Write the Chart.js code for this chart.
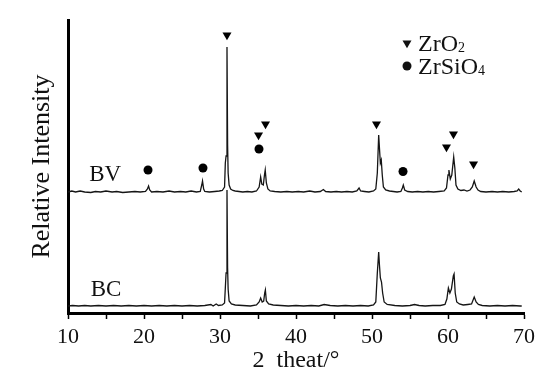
<!DOCTYPE html>
<html>
<head>
<meta charset="utf-8">
<script src="https://cdn.jsdelivr.net/npm/chart.js@4.4.1/dist/chart.umd.min.js"></script>
<style>
  body { margin: 0; background: #fff; }
  #xrd { display: block; }
</style>
</head>
<body>
<canvas id="xrd" width="554" height="386"></canvas>
<script>
// XRD scans: [2theta, intensity (arb. units)]
const bvScan = [
  [10.0,121],[10.5,122],[11.0,121],[11.6,122],[12.2,121],[13.0,120.5],[13.6,121.5],[14.3,121],
  [15.0,122],[15.8,121],[16.4,121.5],[17.2,120.5],[18.0,121],[18.8,121.5],[19.5,121],[20.2,121.5],
  [20.45,124],[20.6,127],[20.75,123],[21.0,121],[21.7,121.5],[22.5,121],[23.3,122],[24.0,121],
  [24.8,121.5],[25.5,121],[26.2,122],[26.9,121],[27.4,121.5],[27.6,128],[27.7,132],[27.85,124],
  [28.0,121.5],[28.6,121],[29.3,121.5],[29.9,122],[30.3,122.5],[30.6,126],[30.7,150],[30.8,157],
  [30.92,266],[31.0,168],[31.07,140],[31.2,128],[31.4,124],[31.7,122.5],[32.0,122],[32.5,121.5],
  [33.0,121],[33.6,121.5],[34.2,121],[34.8,122],[35.15,126],[35.35,136],[35.5,129],[35.7,128],
  [35.85,138],[35.95,143],[36.1,130],[36.3,124],[36.6,122],[37.2,121.5],[38.0,121],[38.8,121.5],
  [39.5,121],[40.3,121.5],[41.0,121],[41.8,122],[42.5,121],[43.2,121.5],[43.6,123.5],[43.9,121.5],
  [44.6,121],[45.3,121.5],[46.0,121],[46.7,121.5],[47.4,121],[48.0,122],[48.3,125],[48.5,122],
  [49.0,121.5],[49.6,121],[50.2,122],[50.5,124],[50.7,140],[50.88,178],[50.98,165],[51.1,150],
  [51.22,153],[51.35,138],[51.5,126],[51.8,123],[52.3,122],[52.8,121.5],[53.3,121],[53.8,121.5],
  [54.0,125],[54.12,128],[54.3,123],[54.7,121.5],[55.3,121],[56.0,121.5],[56.7,121],[57.4,121.5],
  [58.1,121],[58.8,121.5],[59.5,122],[59.8,125],[60.0,138],[60.12,143],[60.3,134],[60.5,138],
  [60.75,156],[60.9,145],[61.05,128],[61.3,124],[61.7,122.5],[62.1,123],[62.5,122],[62.9,123],
  [63.2,126],[63.45,132],[63.7,126],[63.95,123],[64.3,121.5],[65.0,121],[65.8,121.5],[66.5,121],
  [67.2,121.5],[68.0,121],[68.7,121.5],[69.1,122],[69.3,124],[69.5,122],[69.7,121]
];

const bcScan = [
  [10.0,7],[10.6,7.5],[11.4,7],[12.2,7.5],[13.0,7],[14.0,7.5],[15.0,7],[16.0,7.5],
  [17.0,7],[18.0,7.5],[19.0,7],[20.0,7.5],[21.0,7],[22.0,7.5],[23.0,7],[24.0,7.5],
  [25.0,7],[26.0,7.5],[27.0,7],[28.0,7.5],[28.8,8.5],[29.1,7],[29.5,9],[29.8,7.5],
  [30.3,8],[30.6,10],[30.7,25],[30.8,40],[30.92,123],[31.0,45],[31.07,24],[31.2,12],
  [31.5,9],[32.0,8],[33.0,7.5],[34.0,7],[34.8,8],[35.15,11],[35.35,15],[35.55,11],
  [35.75,12],[35.88,20],[35.97,23],[36.1,12],[36.4,9],[37.0,8],[38.0,7.5],[39.0,7],
  [40.0,7.5],[41.0,7],[42.0,7.5],[43.0,7],[43.7,8.5],[44.5,7.5],[45.5,7],[46.5,7.5],
  [47.5,7],[48.5,7.5],[49.5,7],[50.2,8],[50.5,11],[50.7,40],[50.88,61],[50.98,48],
  [51.1,35],[51.25,31],[51.4,20],[51.6,11],[52.0,8.5],[53.0,7.5],[54.0,7],[55.0,7.5],
  [55.6,8.5],[56.2,7.5],[57.0,7],[58.0,7.5],[59.0,7.5],[59.6,8.5],[59.85,14],[60.05,25],
  [60.25,20],[60.45,24],[60.7,37],[60.8,39],[60.95,20],[61.15,11],[61.5,9],[62.0,8],
  [62.6,8.5],[63.1,9],[63.45,16],[63.7,11],[64.0,8.5],[64.5,7.5],[65.5,7],[66.5,7.5],
  [67.5,7],[68.5,7.5],[69.5,7],[69.7,7]
];

// phase markers above the BV peaks
const zro2Marks = [[30.92,278],[35.07,178],[35.99,189],[50.59,189],[59.8,166],[60.72,179],[63.36,149]];
const zrsio4Marks = [[20.53,143],[27.76,145],[35.13,164],[54.08,141.5]];

const xTicks = [10, 20, 30, 40, 50, 60, 70];

const toPoints = arr => arr.map(p => ({ x: p[0], y: p[1] }));
const serif = "'Times New Roman', 'Liberation Serif', serif";

// legend and sample names drawn on top
const notes = {
  id: 'notes',
  afterDatasetsDraw(chart) {
    const { ctx, scales: { x, y } } = chart;
    ctx.save();
    ctx.fillStyle = '#111';
    ctx.textBaseline = 'middle';
    ctx.textAlign = 'center';
    ctx.font = '23px ' + serif;
    ctx.fillText('BV', x.getPixelForValue(14.9), y.getPixelForValue(138));
    ctx.fillText('BC', x.getPixelForValue(15.0), y.getPixelForValue(23));

    // legend
    const lx = 407, ly1 = 43, ly2 = 66;
    ctx.beginPath();
    ctx.moveTo(lx - 4.5, ly1 - 2.6);
    ctx.lineTo(lx + 4.5, ly1 - 2.6);
    ctx.lineTo(lx, ly1 + 5.2);
    ctx.closePath();
    ctx.fill();
    ctx.beginPath();
    ctx.arc(lx, ly2, 4.5, 0, Math.PI * 2);
    ctx.fill();

    ctx.textAlign = 'left';
    ctx.textBaseline = 'alphabetic';
    const rows = [['ZrO', '2', ly1], ['ZrSiO', '4', ly2]];
    rows.forEach(([main, sub, yy]) => {
      ctx.font = '24px ' + serif;
      ctx.fillText(main, 418, yy + 8);
      const w = ctx.measureText(main).width;
      ctx.font = '14px ' + serif;
      ctx.fillText(sub, 418 + w, yy + 9);
    });
    ctx.restore();
  }
};

new Chart(document.getElementById('xrd'), {
  type: 'line',
  data: {
    datasets: [
      { label: 'BV', data: toPoints(bvScan), borderColor: '#151515', borderWidth: 1.3, pointRadius: 0, tension: 0 },
      { label: 'BC', data: toPoints(bcScan), borderColor: '#151515', borderWidth: 1.3, pointRadius: 0, tension: 0 },
      { label: 'ZrO2', type: 'scatter', data: toPoints(zro2Marks), pointStyle: 'triangle', rotation: 180,
        pointRadius: 5.2, backgroundColor: '#000', borderColor: '#000', borderWidth: 0 },
      { label: 'ZrSiO4', type: 'scatter', data: toPoints(zrsio4Marks), pointStyle: 'circle',
        pointRadius: 4.5, backgroundColor: '#000', borderColor: '#000', borderWidth: 0 }
    ]
  },
  options: {
    responsive: false,
    animation: false,
    events: [],
    layout: { padding: { top: 20, right: 30, left: 0, bottom: 0 } },
    plugins: { legend: { display: false }, tooltip: { enabled: false } },
    scales: {
      x: {
        type: 'linear',
        min: 10,
        max: 70,
        afterFit: s => { s.height = 73; },
        afterBuildTicks: s => { s.ticks = [];
          for (let v = 10; v <= 70; v += 5) s.ticks.push({ value: v }); },
        border: { display: true, color: '#000', width: 3 },
        grid: { display: true, drawOnChartArea: false, drawTicks: true, tickLength: 6,
                tickColor: '#000', tickWidth: 1.5 },
        ticks: {
          autoSkip: false, maxRotation: 0, padding: 5, color: '#111',
          font: { family: serif, size: 22 },
          callback: v => xTicks.includes(v) ? String(v) : ''
        },
        title: { display: true, text: '2  theat/°', color: '#111',
                 font: { family: serif, size: 24 }, padding: { bottom: 11 } }
      },
      y: {
        min: 0,
        max: 293,
        afterFit: s => { s.width = 68; },
        border: { display: true, color: '#000', width: 3 },
        grid: { display: false },
        ticks: { display: false },
        title: { display: true, text: 'Relative Intensity', color: '#111',
                 font: { family: serif, size: 26 }, padding: { top: 27 } }
      }
    }
  },
  plugins: [notes]
});
</script>
</body>
</html>
